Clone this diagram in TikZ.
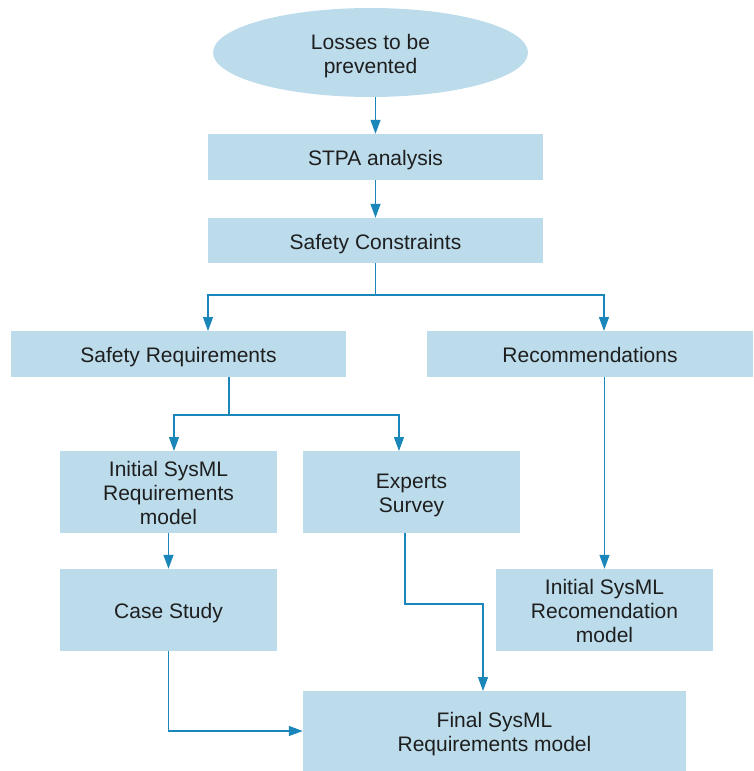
\documentclass[tikz,border=0pt]{standalone}
\usepackage{fontspec}
\setmainfont{Liberation Sans}
\usetikzlibrary{arrows.meta,shapes.geometric}
\definecolor{boxfill}{HTML}{BCDCEC}
\definecolor{linecol}{HTML}{1A86BA}
\definecolor{txt}{HTML}{1E1E1E}
\tikzset{
  base/.style={fill=boxfill, draw=none, inner sep=0pt, align=center, text=txt,
    font=\fontsize{21}{24}\selectfont, text depth=0pt, text height=17pt},
  twoline/.style={text height=41pt},
  threeline/.style={text height=65pt},
  box/.style={base, rectangle},
  oval/.style={base, ellipse},
  conn/.style={draw=linecol, line width=1.2pt},
  arr/.style={conn, -{Triangle[length=14pt,width=10pt]}},
}
\begin{document}
\begin{tikzpicture}[x=1pt,y=-1pt]
\useasboundingbox (0,0) rectangle (753,771);
\node[oval, twoline, minimum width=315pt, minimum height=89pt] (loss) at (370.5,52.5) {Losses to be\\prevented};
\node[box, minimum width=335pt, minimum height=46pt] (stpa) at (375.5,157) {STPA analysis};
\node[box, minimum width=335pt, minimum height=45pt] (sc) at (375.5,240.5) {Safety Constraints};
\node[box, minimum width=335pt, minimum height=46pt] (sr) at (178.5,354) {Safety Requirements};
\node[box, minimum width=326pt, minimum height=46pt] (rec) at (590,354) {Recommendations};
\node[box, threeline, minimum width=217pt, minimum height=82pt] (isr) at (168.5,492) {Initial SysML\\Requirements\\model};
\node[box, twoline, minimum width=217pt, minimum height=82pt] (exp) at (411.5,492) {Experts\\Survey};
\node[box, minimum width=217pt, minimum height=82pt] (cs) at (168.5,610) {Case Study};
\node[box, threeline, minimum width=217pt, minimum height=82pt] (irec) at (604.5,610) {Initial SysML\\Recomendation\\model};
\node[box, twoline, minimum width=383pt, minimum height=80pt] (fin) at (494.5,731) {Final SysML\\Requirements model};
% junction coordinates
\coordinate (j1) at (375.5,295);
\coordinate (srin) at (208,331);
\coordinate (recin) at (604,331);
\coordinate (srout) at (229,377);
\coordinate (j2) at (229,415);
\coordinate (isrin) at (174,451);
\coordinate (expin) at (399,451);
\coordinate (expout) at (405,533);
\coordinate (j3) at (405,604);
\coordinate (finin) at (483,691);
\coordinate (recout) at (604.5,377);
\coordinate (csout) at (168.5,651);
% connectors
\draw[arr] (loss.south -| stpa.north) -- (stpa.north);
\draw[arr] (stpa.south) -- (sc.north);
\draw[conn] (sc.south) -- (j1);
\draw[arr] (j1) -| (srin);
\draw[arr] (j1) -| (recin);
\draw[conn] (srout) -- (j2);
\draw[arr] (j2) -| (isrin);
\draw[arr] (j2) -| (expin);
\draw[arr] (isr.south) -- (cs.north);
\draw[arr] (recout) -- (irec.north);
\draw[arr] (expout) -- (j3) -| (finin);
\draw[arr] (csout) |- (fin.west);
\end{tikzpicture}
\end{document}
